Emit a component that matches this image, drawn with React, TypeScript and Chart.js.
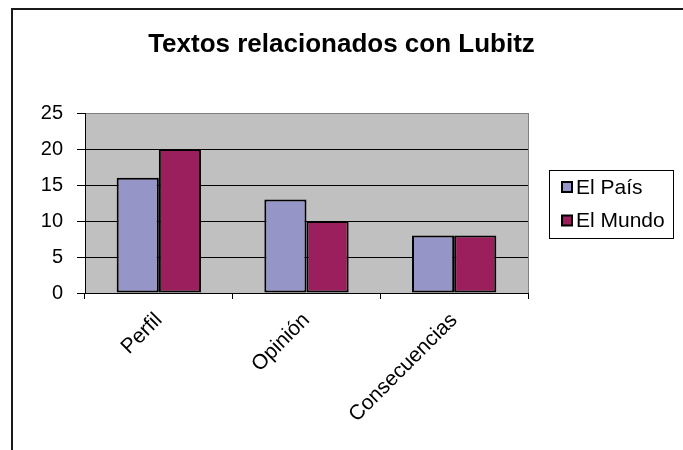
import React, { useEffect, useRef } from "react";
import { Chart, registerables } from "chart.js";

Chart.register(...registerables);

const TITLE = "Textos relacionados con Lubitz";
const categories = ["Perfil", "Opinión", "Consecuencias"];
const seriesNames = ["El País", "El Mundo"];
const elPais = [16, 13, 8];
const elMundo = [20, 10, 8];
const yTicks = [0, 5, 10, 15, 20, 25];
const colors = ["#9595C8", "#9A1F5C"];

const FONT = 'Arial, "Liberation Sans", sans-serif';

const decorPlugin = {
  id: "decor",
  beforeDraw(chart: any) {
    const { ctx, chartArea } = chart;
    ctx.save();
    ctx.fillStyle = "#ffffff";
    ctx.fillRect(0, 0, chart.width, chart.height);
    ctx.fillStyle = "#C0C0C0";
    ctx.fillRect(chartArea.left, chartArea.top, chartArea.right - chartArea.left, chartArea.bottom - chartArea.top);
    ctx.restore();
  },
  afterDraw(chart: any) {
    const { ctx, chartArea } = chart;
    ctx.save();
    // outer frame (left + top)
    ctx.fillStyle = "#1a1a1a";
    ctx.fillRect(11, 8, chart.width - 11, 2);
    ctx.fillRect(11, 8, 2, chart.height - 8);
    // plot area right border
    ctx.strokeStyle = "#808080";
    ctx.lineWidth = 1;
    ctx.beginPath();
    ctx.moveTo(Math.round(chartArea.right) + 0.5, chartArea.top);
    ctx.lineTo(Math.round(chartArea.right) + 0.5, chartArea.bottom);
    ctx.stroke();
    // title
    ctx.fillStyle = "#000";
    ctx.font = "bold 26px " + FONT;
    ctx.textAlign = "center";
    ctx.textBaseline = "alphabetic";
    ctx.fillText(TITLE, chart.width / 2, 52);
    // legend
    const bx = 549, by = 170, bw = 124, bh = 68;
    ctx.strokeStyle = "#000";
    ctx.lineWidth = 1;
    ctx.strokeRect(bx + 0.5, by + 0.5, bw, bh);
    ctx.font = "21px " + FONT;
    ctx.textAlign = "left";
    ctx.textBaseline = "middle";
    chart.data.datasets.forEach((ds: any, i: number) => {
      const cy = 187 + i * 33.5;
      ctx.fillStyle = ds.backgroundColor;
      ctx.fillRect(562, cy - 5, 10, 10);
      ctx.lineWidth = 2;
      ctx.strokeStyle = "#000";
      ctx.strokeRect(562, cy - 5, 10, 10);
      ctx.fillStyle = "#000";
      ctx.fillText(ds.label, 576, cy + 1);
    });
    ctx.restore();
  },
};

export default function App() {
  const ref = useRef<HTMLCanvasElement>(null);
  useEffect(() => {
    document.body.style.margin = "0";
    const chart = new Chart(ref.current!, {
      type: "bar",
      data: {
        labels: categories,
        datasets: [
          { label: seriesNames[0], data: elPais, backgroundColor: colors[0], borderColor: "#000", borderWidth: 2, borderSkipped: false },
          { label: seriesNames[1], data: elMundo, backgroundColor: colors[1], borderColor: "#000", borderWidth: 2, borderSkipped: false },
        ],
      },
      options: {
        animation: false,
        responsive: false,
        devicePixelRatio: 1,
        datasets: { bar: { categoryPercentage: 0.571, barPercentage: 1 } },
        layout: { padding: { left: 0, top: 113, right: 155, bottom: 0 } },
        plugins: { legend: { display: false }, title: { display: false }, tooltip: { enabled: false } },
        scales: {
          x: {
            offset: true,
            grid: { offset: true, drawOnChartArea: false, drawTicks: true, tickLength: 6, tickColor: "#000", tickWidth: 1 },
            border: { display: true, color: "#000", width: 1 },
            ticks: { color: "#000", font: { family: FONT, size: 21 }, minRotation: 45, maxRotation: 45, padding: 9, autoSkip: false },
            afterFit: (s: any) => { s.height = 157; },
          },
          y: {
            min: 0,
            max: 25,
            afterBuildTicks: (s: any) => { s.ticks = yTicks.map((v) => ({ value: v })); },
            grid: {
              color: (c: any) => (c.tick && c.tick.value === 25 ? "#808080" : "#000"),
              tickColor: "#000",
              tickLength: 8,
              lineWidth: 1,
            },
            border: { display: true, color: "#000", width: 1 },
            ticks: { color: "#000", font: { family: FONT, size: 20 }, padding: 14 },
            afterFit: (s: any) => { s.width = 85; },
          },
        },
      },
      plugins: [decorPlugin],
    } as any);
    return () => chart.destroy();
  }, []);
  return (
    <div style={{ position: "fixed", left: 0, top: 0, width: 683, height: 450 }}>
      <canvas ref={ref} width={683} height={450} style={{ width: 683, height: 450, display: "block" }} />
    </div>
  );
}
